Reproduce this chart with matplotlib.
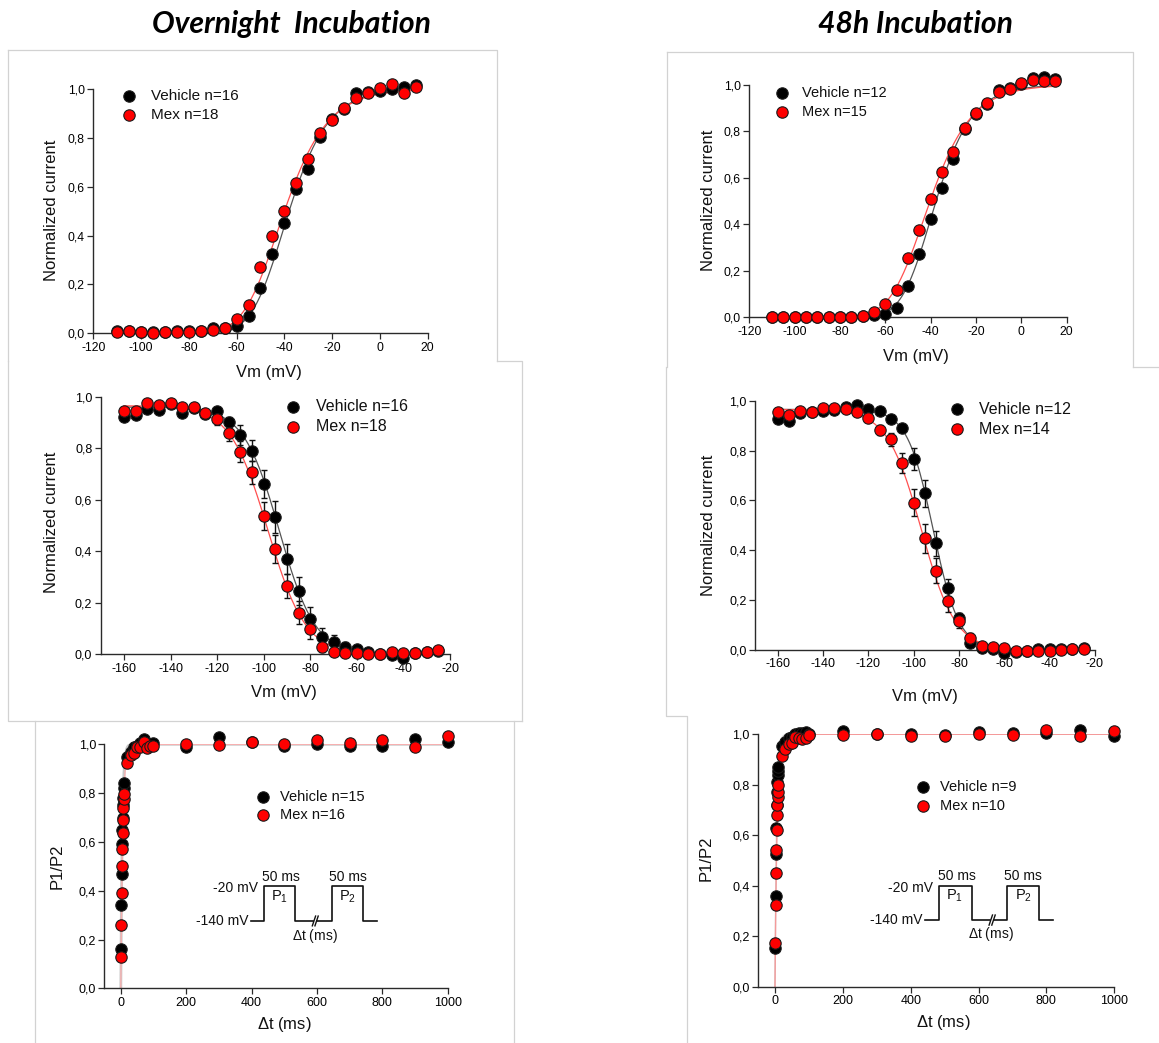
import numpy as np
import matplotlib
matplotlib.use("Agg")
import matplotlib.pyplot as plt
from matplotlib.lines import Line2D

plt.rcParams['font.family'] = ['Liberation Sans', 'DejaVu Sans']
plt.rcParams['mathtext.fontset'] = 'custom'
plt.rcParams['mathtext.rm'] = 'Liberation Sans'
plt.rcParams['axes.unicode_minus'] = False

# ---------------- data ----------------
act_v = [-110, -105, -100, -95, -90, -85, -80, -75, -70, -65, -60, -55, -50, -45,
         -40, -35, -30, -25, -20, -15, -10, -5, 0, 5, 10, 15]
act_on_veh = [0.008, 0.008, 0.006, 0.004, 0.006, 0.010, 0.008, 0.010, 0.020, 0.020, 0.031, 0.071, 0.187, 0.325,
              0.453, 0.590, 0.674, 0.805, 0.879, 0.920, 0.982, 0.986, 0.993, 1.000, 1.007, 1.016]
act_on_mex = [0.005, 0.008, 0.005, 0.003, 0.005, 0.006, 0.005, 0.010, 0.015, 0.023, 0.057, 0.116, 0.270, 0.398,
              0.500, 0.617, 0.712, 0.818, 0.873, 0.921, 0.962, 0.985, 1.005, 1.020, 0.982, 1.010]
act_48_veh = [0.003, 0.003, 0.003, 0.003, 0.003, 0.003, 0.003, 0.003, 0.005, 0.010, 0.014, 0.039, 0.135, 0.271,
              0.423, 0.555, 0.683, 0.809, 0.875, 0.920, 0.978, 0.985, 1.005, 1.029, 1.033, 1.024]
act_48_mex = [0.003, 0.003, 0.003, 0.003, 0.003, 0.003, 0.003, 0.003, 0.007, 0.024, 0.056, 0.118, 0.254, 0.374,
              0.509, 0.624, 0.713, 0.815, 0.881, 0.921, 0.970, 0.983, 1.007, 1.022, 1.017, 1.016]

inact_v = [-160, -155, -150, -145, -140, -135, -130, -125, -120, -115, -110, -105, -100, -95,
           -90, -85, -80, -75, -70, -65, -60, -55, -50, -45, -40, -35, -30, -25]
inact_on_veh = [0.920, 0.929, 0.951, 0.948, 0.970, 0.935, 0.955, 0.932, 0.946, 0.900, 0.851, 0.790, 0.661, 0.532,
                0.370, 0.247, 0.137, 0.069, 0.047, 0.030, 0.020, 0.010, 0.001, -0.003, -0.013, 0.004, 0.010, 0.014]
inact_on_veh_err = [0.01, 0.01, 0.01, 0.01, 0.01, 0.01, 0.01, 0.01, 0.015, 0.02, 0.04, 0.04, 0.055, 0.063,
                    0.06, 0.054, 0.047, 0.035, 0.028, 0.018, 0.012, 0.01, 0.01, 0.01, 0.012, 0.008, 0.006, 0.006]
inact_on_mex = [0.944, 0.944, 0.977, 0.968, 0.974, 0.961, 0.959, 0.935, 0.912, 0.858, 0.787, 0.706, 0.537, 0.408,
                0.265, 0.162, 0.098, 0.030, 0.010, 0.004, 0.004, 0.001, 0.003, 0.008, 0.004, 0.006, 0.010, 0.015]
inact_on_mex_err = [0.01, 0.01, 0.01, 0.01, 0.01, 0.01, 0.01, 0.01, 0.02, 0.03, 0.04, 0.045, 0.055, 0.055,
                    0.048, 0.045, 0.04, 0.02, 0.01, 0.008, 0.008, 0.008, 0.008, 0.008, 0.008, 0.008, 0.008, 0.008]
inact_48_veh = [0.926, 0.920, 0.949, 0.953, 0.959, 0.963, 0.976, 0.983, 0.967, 0.960, 0.925, 0.889, 0.766, 0.628,
                0.428, 0.250, 0.130, 0.027, 0.009, 0.003, -0.011, -0.007, -0.003, 0.005, 0.005, 0.003, 0.005, 0.007]
inact_48_veh_err = [0.01, 0.01, 0.01, 0.01, 0.01, 0.01, 0.01, 0.01, 0.01, 0.01, 0.01, 0.015, 0.043, 0.053,
                    0.05, 0.035, 0.02, 0.012, 0.008, 0.008, 0.008, 0.008, 0.008, 0.008, 0.008, 0.008, 0.008, 0.008]
inact_48_mex = [0.956, 0.944, 0.959, 0.953, 0.972, 0.969, 0.965, 0.953, 0.929, 0.882, 0.845, 0.749, 0.591, 0.449,
                0.318, 0.197, 0.118, 0.047, 0.016, 0.013, 0.007, -0.003, -0.004, -0.003, -0.004, 0.000, 0.003, 0.005]
inact_48_mex_err = [0.01, 0.01, 0.01, 0.01, 0.01, 0.01, 0.01, 0.01, 0.01, 0.02, 0.025, 0.04, 0.055, 0.058,
                    0.05, 0.045, 0.03, 0.02, 0.008, 0.008, 0.008, 0.008, 0.008, 0.008, 0.008, 0.008, 0.008, 0.008]

rec_t = [1, 2, 3, 4, 5, 6, 7, 8, 9, 10, 20, 30, 40, 50, 60, 70, 80, 90, 100,
         200, 300, 400, 500, 600, 700, 800, 900, 1000]
rec_on_veh = [0.16, 0.34, 0.47, 0.59, 0.65, 0.70, 0.75, 0.78, 0.82, 0.84, 0.95, 0.97, 0.99, 0.995, 1.005, 1.02, 0.99, 1.0, 1.005,
              0.99, 1.028, 1.01, 0.994, 1.0, 0.995, 0.995, 1.022, 1.01]
rec_on_mex = [0.13, 0.26, 0.39, 0.50, 0.57, 0.635, 0.69, 0.74, 0.775, 0.795, 0.925, 0.955, 0.965, 0.99, 0.99, 1.01, 0.985, 0.995, 0.995,
              1.003, 0.998, 1.01, 1.002, 1.018, 1.005, 1.017, 0.988, 1.035]
rec_48_veh = [0.155, 0.36, 0.525, 0.63, 0.72, 0.77, 0.81, 0.84, 0.855, 0.87, 0.955, 0.97, 0.985, 0.99, 1.0, 1.005, 1.005, 1.01, 1.0,
              1.015, 1.0, 1.0, 0.996, 1.01, 1.005, 1.005, 1.018, 0.995]
rec_48_mex = [0.175, 0.325, 0.45, 0.54, 0.62, 0.68, 0.72, 0.75, 0.77, 0.80, 0.915, 0.94, 0.96, 0.965, 0.99, 0.985, 0.98, 0.985, 0.998,
              0.997, 1.0, 0.995, 0.995, 1.0, 0.997, 1.018, 0.993, 1.015]

# fitted parameters
act_fit = {'on_veh': (-51.5, 10.0), 'on_mex': (-54.8, 11.0), '48_veh': (-50.7, 9.7), '48_mex': (-55.4, 11.2)}
inact_fit = {'on_veh': (0.96, -93.3, 7.7), 'on_mex': (0.965, -98.2, 8.1),
             '48_veh': (0.965, -91.4, 5.7), '48_mex': (0.965, -96.6, 7.5)}
rec_fit = {'on_veh': (1.07, 4.5), 'on_mex': (1.05, 6.0), '48_veh': (1.02, 4.8), '48_mex': (1.0, 6.3)}

legend_labels = {
    'p1': ('Vehicle n=16', 'Mex n=18'), 'p2': ('Vehicle n=12', 'Mex n=15'),
    'p3': ('Vehicle n=16', 'Mex n=18'), 'p4': ('Vehicle n=12', 'Mex n=14'),
    'p5': ('Vehicle n=15', 'Mex n=16'), 'p6': ('Vehicle n=9', 'Mex n=10'),
}
y_ticks = [0.0, 0.2, 0.4, 0.6, 0.8, 1.0]
y_ticklabels = ['0,0', '0,2', '0,4', '0,6', '0,8', '1,0']

# ---------------- figure ----------------
W, H = 1159, 1043
fig = plt.figure(figsize=(W / 100, H / 100), dpi=100)
fig.patch.set_facecolor('white')

BOX = '#d2d2d2'
def fline(xs, ys, **kw):
    fig.add_artist(Line2D([x / W for x in xs], [1 - y / H for y in ys],
                          transform=fig.transFigure, **kw))

# faint panel frames
for xs, ys in [([8, 497, 497], [50, 50, 361]),
               ([8, 8], [50, 361]),
               ([497, 522, 522], [361, 361, 721]),
               ([8, 8, 522], [361, 721, 721]),
               ([35, 35], [721, 1043]), ([514, 514], [721, 1043]),
               ([667, 1133, 1133], [52, 52, 367]), ([667, 667], [52, 367]),
               ([666, 666, 687, 687], [367, 716, 716, 1043]), ([1133, 1159], [367, 367])]:
    fline(xs, ys, color=BOX, lw=0.9)

def add_ax(xl, xr, yb, yt):
    ax = fig.add_axes([xl / W, 1 - yb / H, (xr - xl) / W, (yb - yt) / H])
    ax.patch.set_alpha(0)
    for s in ['top', 'right']:
        ax.spines[s].set_visible(False)
    for s in ['left', 'bottom']:
        ax.spines[s].set_color('#2a2a2a')
        ax.spines[s].set_linewidth(1.0)
    ax.tick_params(direction='out', length=4, width=0.9, color='#2a2a2a', pad=2)
    ax.set_yticks(y_ticks)
    ax.set_yticklabels(y_ticklabels)
    return ax

MS = 8.2
def markers(ax, x, y, color):
    ax.plot(x, y, 'o', ms=MS, mfc=color, mec='#1a1a1a', mew=0.8, ls='none', zorder=4, clip_on=False)

def legend(pos, labels, fs):
    mx, y1, y2, tx = pos
    for y, lab, c in [(y1, labels[0], 'black'), (y2, labels[1], '#ff0000')]:
        fig.add_artist(Line2D([mx / W], [1 - y / H], marker='o', ms=MS, mfc=c, mec='#1a1a1a', mew=0.8,
                              ls='none', transform=fig.transFigure))
        fig.text(tx / W, 1 - y / H, lab, fontsize=fs, va='center', ha='left', color='#111')

def ylabel(x, y, s, fs=12):
    fig.text(x / W, 1 - y / H, s, rotation=90, fontsize=fs, ha='center', va='center', color='#111')

def xlabel(x, y, s, fs=12):
    fig.text(x / W, 1 - y / H, s, fontsize=fs, ha='center', va='center', color='#111')

def act_curve(v, vh, k):
    return (1 / (1 + np.exp((vh - v) / k))) ** 3

def inact_curve(v, a, vh, k):
    return a / (1 + np.exp((v - vh) / k))

def rec_curve(t, a, tau):
    return 1 - a * np.exp(-t / tau)

# titles
fig.text(291 / W, 1 - 24 / H, 'Overnight  Incubation', fontsize=21.7, fontweight='bold', fontstyle='italic',
         family=['Lato', 'DejaVu Sans'], ha='center', va='center')
fig.text(915 / W, 1 - 24 / H, '48h Incubation', fontsize=21.7, fontweight='bold', fontstyle='italic',
         family=['Lato', 'DejaVu Sans'], ha='center', va='center')

# ---- activation panels ----
for (xl, xr, yb, yt), veh, mex, kv, km, leg, lpos, ylp, xlp, lfs in [
        ((93.3, 427.7, 333.3, 89), act_on_veh, act_on_mex, 'on_veh', 'on_mex', 'p1',
         (129.3, 96, 115, 150.7), (52, 210), (269, 372), 11),
        ((749.3, 1066.7, 317.3, 85), act_48_veh, act_48_mex, '48_veh', '48_mex', 'p2',
         (781.7, 93.3, 111.7, 801.7), (709, 200), (916, 356), 10.5)]:
    ax = add_ax(xl, xr, yb, yt)
    ax.set_xlim(-120, 20)
    ax.set_ylim(0, 1)
    ax.set_xticks(np.arange(-120, 21, 20))
    ax.tick_params(labelsize=8.7)
    vv = np.linspace(min(act_v), max(act_v), 300)
    ax.plot(vv, act_curve(vv, *act_fit[kv]), color='#555555', lw=0.9, zorder=2)
    ax.plot(vv, act_curve(vv, *act_fit[km]), color='#ff5050', lw=0.9, zorder=2)
    markers(ax, act_v, veh, 'black')
    markers(ax, act_v, mex, '#ff0000')
    legend(lpos, legend_labels[leg], lfs)
    ylabel(*ylp, 'Normalized current')
    xlabel(*xlp, 'Vm (mV)')

# ---- inactivation panels ----
for (xl, xr, yb, yt), veh, ve, mex, me, kv, km, leg, lpos, ylp, xlp in [
        ((100.7, 450, 654.3, 396.7), inact_on_veh, inact_on_veh_err, inact_on_mex, inact_on_mex_err,
         'on_veh', 'on_mex', 'p3', (293.3, 406.7, 426.7, 315.7), (52, 522), (284, 692)),
        ((755, 1095, 650, 400.7), inact_48_veh, inact_48_veh_err, inact_48_mex, inact_48_mex_err,
         '48_veh', '48_mex', 'p4', (957.3, 409.3, 429.3, 979.3), (709, 525), (925, 697))]:
    ax = add_ax(xl, xr, yb, yt)
    ax.set_xlim(-170, -20)
    ax.set_ylim(0, 1)
    ax.set_xticks(np.arange(-160, -19, 20))
    ax.tick_params(labelsize=9)
    vv = np.linspace(min(inact_v), max(inact_v), 300)
    ax.plot(vv, inact_curve(vv, *inact_fit[kv]), color='#555555', lw=0.9, zorder=2)
    ax.plot(vv, inact_curve(vv, *inact_fit[km]), color='#ff5050', lw=0.9, zorder=2)
    ax.errorbar(inact_v, veh, yerr=ve, fmt='none', ecolor='#111', elinewidth=1.0, capsize=2.5,
                capthick=1.0, zorder=3, clip_on=False)
    ax.errorbar(inact_v, mex, yerr=me, fmt='none', ecolor='#111', elinewidth=1.0, capsize=2.5,
                capthick=1.0, zorder=3, clip_on=False)
    markers(ax, inact_v, veh, 'black')
    markers(ax, inact_v, mex, '#ff0000')
    legend(lpos, legend_labels[leg], 11.5)
    ylabel(*ylp, 'Normalized current')
    xlabel(*xlp, 'Vm (mV)')

# ---- recovery panels ----
panels_rec = [
    dict(box=(104.35, 447.7, 988.3, 744.3), veh=rec_on_veh, mex=rec_on_mex, kv='on_veh', km='on_mex',
         leg='p5', lpos=(263.3, 796.7, 815, 280), ylp=(57, 866), xlp=(284, 1024),
         vcol='#c8c8c8', vlw=2.0, mcol='#f7b0b0', mlw=1.0,
         base=0.276, top=0.421, xs=(397.6, 439.4, 534.1, 588, 600, 645.3, 742.1, 782.9),
         t140=(390, 0.276), t20=(421, 0.41), t50=(490, 695, 0.458), tp=(487, 695, 0.376), tdt=(594, 0.214)),
    dict(box=(758, 1114.3, 986.7, 734.3), veh=rec_48_veh, mex=rec_48_mex, kv='48_veh', km='48_mex',
         leg='p6', lpos=(923.3, 786.7, 805.7, 940), ylp=(706, 858), xlp=(943, 1023),
         vcol='#d0d0d0', vlw=1.0, mcol='#f49a9a', mlw=1.0,
         base=0.264, top=0.40, xs=(442, 484.3, 579.6, 633, 645, 684.7, 779, 820),
         t140=(435, 0.264), t20=(466.6, 0.39), t50=(537, 732, 0.44), tp=(530, 732, 0.36), tdt=(635.6, 0.209)),
]
for p in panels_rec:
    ax = add_ax(*p['box'])
    ax.set_xlim(-50, 1000)
    ax.set_ylim(0, 1)
    ax.set_xticks(np.arange(0, 1001, 200))
    ax.tick_params(labelsize=9)
    tt = np.linspace(0, 1000, 2001)
    ax.plot(tt, rec_curve(tt, *rec_fit[p['kv']]), color=p['vcol'], lw=p['vlw'], zorder=2)
    ax.plot(tt, rec_curve(tt, *rec_fit[p['km']]), color=p['mcol'], lw=p['mlw'], zorder=2)
    markers(ax, rec_t, p['veh'], 'black')
    markers(ax, rec_t, p['mex'], '#ff0000')
    legend(p['lpos'], legend_labels[p['leg']], 10.5)
    ylabel(*p['ylp'], 'P1/P2')
    xlabel(*p['xlp'], r'$\Delta$t (ms)')
    # pulse protocol inset
    b, t = p['base'], p['top']
    x0, x1, x2, xb1, xb2, x3, x4, x5 = p['xs']
    ax.plot([x0, x1, x1, x2, x2, xb1], [b, b, t, t, b, b], color='#111', lw=1.2, zorder=3)
    ax.plot([xb2, x3, x3, x4, x4, x5], [b, b, t, t, b, b], color='#111', lw=1.2, zorder=3)
    for xx in (xb1 - 2, xb2 - 6):
        ax.plot([xx, xx + 10], [b - 0.02, b + 0.02], color='#111', lw=1.0, zorder=3)
    ax.text(p['t140'][0], p['t140'][1], '-140 mV', fontsize=10, ha='right', va='center', color='#111')
    ax.text(p['t20'][0], p['t20'][1], '-20 mV', fontsize=10, ha='right', va='center', color='#111')
    ax.text(p['t50'][0], p['t50'][2], '50 ms', fontsize=10, ha='center', va='center', color='#111')
    ax.text(p['t50'][1], p['t50'][2], '50 ms', fontsize=10, ha='center', va='center', color='#111')
    ax.text(p['tp'][0], p['tp'][2], r'P$_{1}$', fontsize=10.5, ha='center', va='center', color='#111')
    ax.text(p['tp'][1], p['tp'][2], r'P$_{2}$', fontsize=10.5, ha='center', va='center', color='#111')
    ax.text(p['tdt'][0], p['tdt'][1], r'$\Delta$t (ms)', fontsize=10, ha='center', va='center', color='#111')

fig.savefig('out.png', dpi=100, facecolor='white')
